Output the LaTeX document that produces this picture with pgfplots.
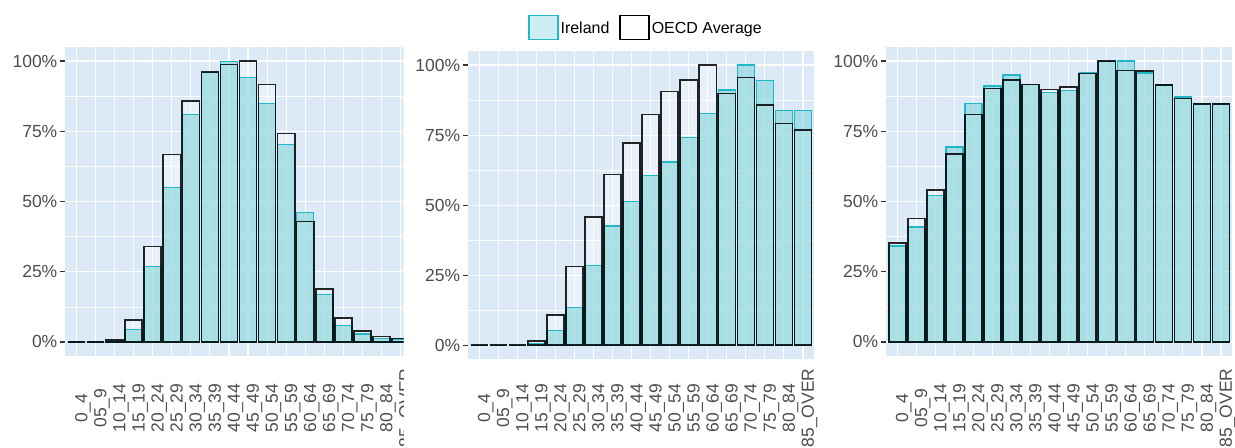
\documentclass[border=0pt]{standalone}
\usepackage{pgfplots}
\pgfplotsset{compat=1.18}
\usepackage{pgfplotstable}
\usepackage{fontspec}
\setmainfont{Liberation Sans}

\definecolor{panelbg}{HTML}{DCEAF8}
\definecolor{irefill}{HTML}{82D3DA}
\definecolor{irekey}{HTML}{CDEFF3}
\definecolor{ireline}{HTML}{1FB8C8}
\definecolor{ticktext}{HTML}{4D4D4D}
\definecolor{tickline}{HTML}{333333}

% share of each age group (0 = 0_4, ..., 17 = 85_OVER)
\pgfplotstableread{
x  ire    oecd
0  0.000  0.000
1  0.000  0.000
2  0.002  0.007
3  0.044  0.078
4  0.268  0.340
5  0.551  0.667
6  0.809  0.858
7  0.960  0.961
8  0.999  0.987
9  0.942  1.000
10 0.850  0.917
11 0.703  0.742
12 0.460  0.429
13 0.170  0.189
14 0.059  0.085
15 0.028  0.040
16 0.012  0.019
17 0.010  0.012
}\tabA

\pgfplotstableread{
x  ire    oecd
0  0.000  0.000
1  0.000  0.000
2  0.000  0.000
3  0.006  0.015
4  0.052  0.108
5  0.135  0.281
6  0.284  0.457
7  0.426  0.610
8  0.512  0.721
9  0.605  0.824
10 0.654  0.905
11 0.742  0.947
12 0.827  1.000
13 0.911  0.899
14 1.000  0.956
15 0.945  0.857
16 0.837  0.791
17 0.837  0.768
}\tabB

\pgfplotstableread{
x  ire    oecd
0  0.342  0.352
1  0.409  0.440
2  0.522  0.541
3  0.694  0.670
4  0.849  0.810
5  0.911  0.902
6  0.950  0.933
7  0.917  0.917
8  0.887  0.898
9  0.894  0.907
10 0.960  0.955
11 0.998  1.000
12 1.000  0.967
13 0.957  0.965
14 0.915  0.915
15 0.872  0.866
16 0.848  0.848
17 0.848  0.848
}\tabC

\pgfplotsset{
  agepanel/.style={
    scale only axis, anchor=south west,
    xmin=-0.6, xmax=17.6, ymin=-0.05, ymax=1.05,
    axis background/.style={fill=panelbg},
    axis line style={draw=none},
    xtick={0,...,17},
    xticklabels={0\_4,05\_9,10\_14,15\_19,20\_24,25\_29,30\_34,35\_39,40\_44,
      45\_49,50\_54,55\_59,60\_64,65\_69,70\_74,75\_79,80\_84,85\_OVER},
    ytick={0,0.25,0.5,0.75,1},
    yticklabels={0\%,25\%,50\%,75\%,100\%},
    minor ytick={0.125,0.375,0.625,0.875},
    xmajorgrids, ymajorgrids, yminorgrids,
    major grid style={white, line width=1.1bp},
    minor grid style={white, line width=0.55bp},
    tick align=outside,
    ytick pos=left,
    major tick length=4.5bp,
    minor tick length=0pt,
    xtick style={draw=none},
    ytick style={tickline, line width=1.1bp},
    ticklabel style={font=\fontsize{17.5bp}{20bp}\selectfont, text=ticktext},
    yticklabel style={inner xsep=3bp},
  },
  labeldrop/.style={xticklabel style={xshift=6.5bp, yshift=-#1, rotate=90, anchor=center}},
  oecdfill/.style={ybar, bar width=0.9, bar shift=0pt, draw=none,
    fill=white, fill opacity=0.35, forget plot},
  irebar/.style={ybar, bar width=0.9, bar shift=0pt, draw=ireline,
    line width=1.3bp, fill=irefill, fill opacity=0.6, forget plot},
  oecdline/.style={ybar, bar width=0.9, bar shift=0pt, draw=black,
    draw opacity=0.85, line width=1.6bp, fill=none, forget plot},
}

\begin{document}
\begin{tikzpicture}
\useasboundingbox (0,0) rectangle (1235bp,448bp);

% left panel, cut off at its right edge
\begin{scope}
\clip (0,0) rectangle (403.5bp,448bp);
\begin{axis}[agepanel, labeldrop=47.5bp,
  at={(65bp,92bp)}, width=347bp, height=309bp]
\addplot[oecdfill] table[x=x,y=oecd]{\tabA};
\addplot[irebar]   table[x=x,y=ire]{\tabA};
\addplot[oecdline] table[x=x,y=oecd]{\tabA};
\end{axis}
\end{scope}

% middle panel, carries the legend
\begin{axis}[agepanel, labeldrop=44.2bp,
  at={(467.9bp,88.7bp)}, width=346.5bp, height=308.3bp,
  legend columns=2,
  legend style={at={(0.514,1.076)}, anchor=center, draw=none, fill=none,
    font=\fontsize{16bp}{19bp}\selectfont,
    /tikz/every even column/.append style={column sep=8bp}},
  legend cell align=left]
\addlegendimage{legend image code/.code={
  \draw[draw=ireline, line width=1.3bp, fill=irekey] (0bp,-11bp) rectangle (29bp,13bp);}}
\addlegendentry{Ireland}
\addlegendimage{legend image code/.code={
  \draw[draw=black, line width=1.3bp, fill=white] (0bp,-11bp) rectangle (29bp,13bp);}}
\addlegendentry{OECD Average}
\addplot[oecdfill] table[x=x,y=oecd]{\tabB};
\addplot[irebar]   table[x=x,y=ire]{\tabB};
\addplot[oecdline] table[x=x,y=oecd]{\tabB};
\end{axis}

% right panel
\begin{axis}[agepanel, labeldrop=47.5bp,
  at={(885.9bp,92bp)}, width=346.5bp, height=309bp]
\addplot[oecdfill] table[x=x,y=oecd]{\tabC};
\addplot[irebar]   table[x=x,y=ire]{\tabC};
\addplot[oecdline] table[x=x,y=oecd]{\tabC};
\end{axis}
\end{tikzpicture}
\end{document}
